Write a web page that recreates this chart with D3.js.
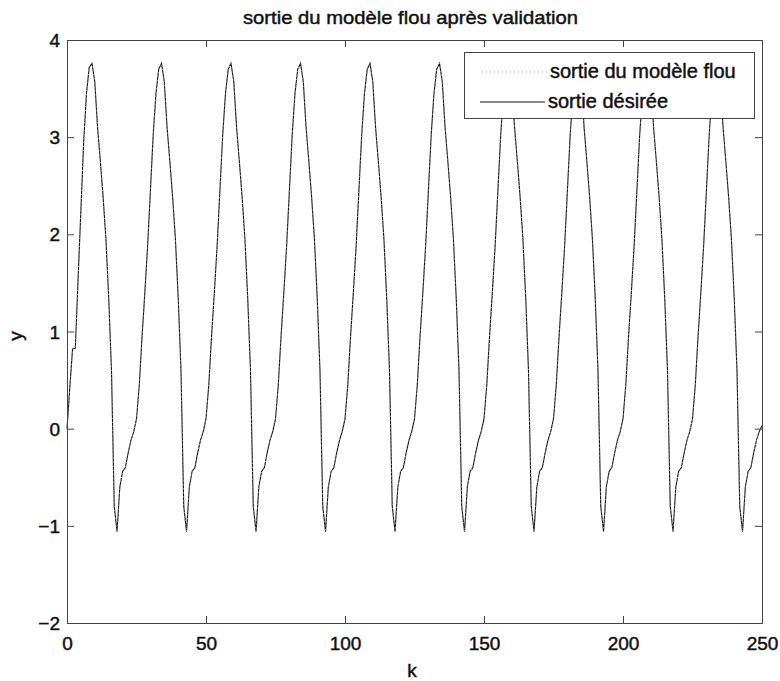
<!DOCTYPE html>
<html>
<head>
<meta charset="utf-8">
<script src="https://cdn.jsdelivr.net/npm/d3@7/dist/d3.min.js"></script>
<style>
  html, body { margin: 0; padding: 0; background: #fff; }
  svg { display: block; }
  text { font-family: "Liberation Sans", Arial, Helvetica, sans-serif; fill: #111; stroke: #111; stroke-width: 0.45px; }
</style>
</head>
<body>
<svg id="chart" width="780" height="681"></svg>
<script>
// ---------- data ----------
const chartTitle = "sortie du modèle flou après validation";
const xLabel = "k";
const yLabel = "y";
const seriesNames = ["sortie du modèle flou", "sortie désirée"];
const xTicks = [0, 50, 100, 150, 200, 250];
const yTicks = [-2, -1, 0, 1, 2, 3, 4];

// desired output y(k), k = 0 .. 250
const desiredOutput = [
  // k = 0..24
  0.00, 0.42, 0.82, 0.83, 1.55, 2.25, 2.95, 3.45, 3.72, 3.76, 3.57, 3.10, 2.75, 2.38, 1.95, 1.35, 0.60, -0.80, -1.06, -0.60, -0.44, -0.40, -0.25, -0.12, -0.03,
  // k = 25..49
  0.10, 0.45, 0.95, 1.40, 1.88, 2.45, 3.02, 3.45, 3.70, 3.76, 3.57, 3.10, 2.75, 2.38, 1.95, 1.35, 0.60, -0.80, -1.06, -0.60, -0.44, -0.40, -0.25, -0.12, -0.03,
  // k = 50..74
  0.10, 0.45, 0.95, 1.40, 1.88, 2.45, 3.02, 3.45, 3.70, 3.76, 3.57, 3.10, 2.75, 2.38, 1.95, 1.35, 0.60, -0.80, -1.06, -0.60, -0.44, -0.40, -0.25, -0.12, -0.03,
  // k = 75..99
  0.10, 0.45, 0.95, 1.40, 1.88, 2.45, 3.02, 3.45, 3.70, 3.76, 3.57, 3.10, 2.75, 2.38, 1.95, 1.35, 0.60, -0.80, -1.06, -0.60, -0.44, -0.40, -0.25, -0.12, -0.03,
  // k = 100..124
  0.10, 0.45, 0.95, 1.40, 1.88, 2.45, 3.02, 3.45, 3.70, 3.76, 3.57, 3.10, 2.75, 2.38, 1.95, 1.35, 0.60, -0.80, -1.06, -0.60, -0.44, -0.40, -0.25, -0.12, -0.03,
  // k = 125..149
  0.10, 0.45, 0.95, 1.40, 1.88, 2.45, 3.02, 3.45, 3.70, 3.76, 3.57, 3.10, 2.75, 2.38, 1.95, 1.35, 0.60, -0.80, -1.06, -0.60, -0.44, -0.40, -0.25, -0.12, -0.03,
  // k = 150..174
  0.10, 0.45, 0.95, 1.40, 1.88, 2.45, 3.02, 3.45, 3.70, 3.76, 3.57, 3.10, 2.75, 2.38, 1.95, 1.35, 0.60, -0.80, -1.06, -0.60, -0.44, -0.40, -0.25, -0.12, -0.03,
  // k = 175..199
  0.10, 0.45, 0.95, 1.40, 1.88, 2.45, 3.02, 3.45, 3.70, 3.76, 3.57, 3.10, 2.75, 2.38, 1.95, 1.35, 0.60, -0.80, -1.06, -0.60, -0.44, -0.40, -0.25, -0.12, -0.03,
  // k = 200..224
  0.10, 0.45, 0.95, 1.40, 1.88, 2.45, 3.02, 3.45, 3.70, 3.76, 3.57, 3.10, 2.75, 2.38, 1.95, 1.35, 0.60, -0.80, -1.06, -0.60, -0.44, -0.40, -0.25, -0.12, -0.03,
  // k = 225..249
  0.10, 0.45, 0.95, 1.40, 1.88, 2.45, 3.02, 3.45, 3.70, 3.76, 3.57, 3.10, 2.75, 2.38, 1.95, 1.35, 0.60, -0.80, -1.06, -0.60, -0.44, -0.40, -0.25, -0.12, -0.03,
  // k = 250
  0.03
];
// fuzzy model output: visually indistinguishable from the desired output
const modelOutput = desiredOutput.slice();

// ---------- layout ----------
const svg = d3.select("#chart");
const plot = { left: 67, right: 762, top: 40, bottom: 623 };

const x = d3.scaleLinear().domain([0, 250]).range([plot.left, plot.right]);
const y = d3.scaleLinear().domain([-2, 4]).range([plot.bottom, plot.top]);

svg.append("rect").attr("width", 780).attr("height", 681).attr("fill", "#fff");

// title
svg.append("text")
  .attr("x", 410.5).attr("y", 24)
  .attr("text-anchor", "middle")
  .attr("font-size", 19)
  .attr("textLength", 335).attr("lengthAdjust", "spacingAndGlyphs")
  .text(chartTitle);

// lines
const line = d3.line().x((d, i) => x(i)).y(d => y(d));

svg.append("path")
  .datum(desiredOutput)
  .attr("d", line)
  .attr("fill", "none")
  .attr("stroke", "#111")
  .attr("stroke-width", 1.1);

svg.append("path")
  .datum(modelOutput)
  .attr("d", line)
  .attr("fill", "none")
  .attr("stroke", "#aaa")
  .attr("stroke-width", 1)
  .attr("stroke-dasharray", "1,3");

// axes (ticks inward, MATLAB style, on all four sides)
const tickLen = 7;
const axisColor = "#444";
const fmt = d3.format("d");

const axBottom = d3.axisBottom(x).tickValues(xTicks).tickSize(-tickLen).tickPadding(tickLen + 6).tickFormat(fmt);
const axTop = d3.axisTop(x).tickValues(xTicks).tickSize(-tickLen).tickFormat("");
const axLeft = d3.axisLeft(y).tickValues(yTicks).tickSize(-tickLen).tickPadding(tickLen + 6).tickFormat(fmt);
const axRight = d3.axisRight(y).tickValues(yTicks).tickSize(-tickLen).tickFormat("");

function styleAxis(g) {
  g.selectAll("path.domain").attr("stroke", axisColor).attr("stroke-width", 1);
  g.selectAll(".tick line").attr("stroke", axisColor).attr("stroke-width", 1);
  g.selectAll(".tick text").attr("fill", "#111")
    .attr("font-family", "'Liberation Sans', Arial, sans-serif")
    .attr("font-size", 19);
}

svg.append("g").attr("transform", `translate(0,${plot.bottom})`).call(axBottom).call(styleAxis)
  .selectAll(".tick text").attr("dy", null).attr("y", 27);
svg.append("g").attr("transform", `translate(0,${plot.top})`).call(axTop).call(styleAxis);
svg.append("g").attr("transform", `translate(${plot.left},0)`).call(axLeft).call(styleAxis)
  .selectAll(".tick text").attr("x", -7).attr("dy", "0.35em");
svg.append("g").attr("transform", `translate(${plot.right},0)`).call(axRight).call(styleAxis);

// axis labels
svg.append("text")
  .attr("x", 412).attr("y", 677)
  .attr("text-anchor", "middle")
  .attr("font-size", 19)
  .text(xLabel);

svg.append("text")
  .attr("transform", "translate(22,336) rotate(-90)")
  .attr("text-anchor", "middle")
  .attr("font-size", 19)
  .text(yLabel);

// legend
const legend = svg.append("g");
legend.append("rect")
  .attr("x", 464.5).attr("y", 52.5).attr("width", 290).attr("height", 66)
  .attr("fill", "#fff").attr("stroke", axisColor).attr("stroke-width", 1);

const legendRows = [
  { name: seriesNames[0], y: 72, stroke: "#aaa", dash: "1,3", x1: 482, x2: 547, tx: 550 },
  { name: seriesNames[1], y: 102, stroke: "#111", dash: null, x1: 480, x2: 545, tx: 548 }
];
legendRows.forEach(r => {
  legend.append("line")
    .attr("x1", r.x1).attr("x2", r.x2).attr("y1", r.y).attr("y2", r.y)
    .attr("stroke", r.stroke).attr("stroke-width", 1)
    .attr("stroke-dasharray", r.dash);
  legend.append("text")
    .attr("x", r.tx).attr("y", r.y + 6)
    .attr("font-size", 20)
    .text(r.name);
});
</script>
</body>
</html>
